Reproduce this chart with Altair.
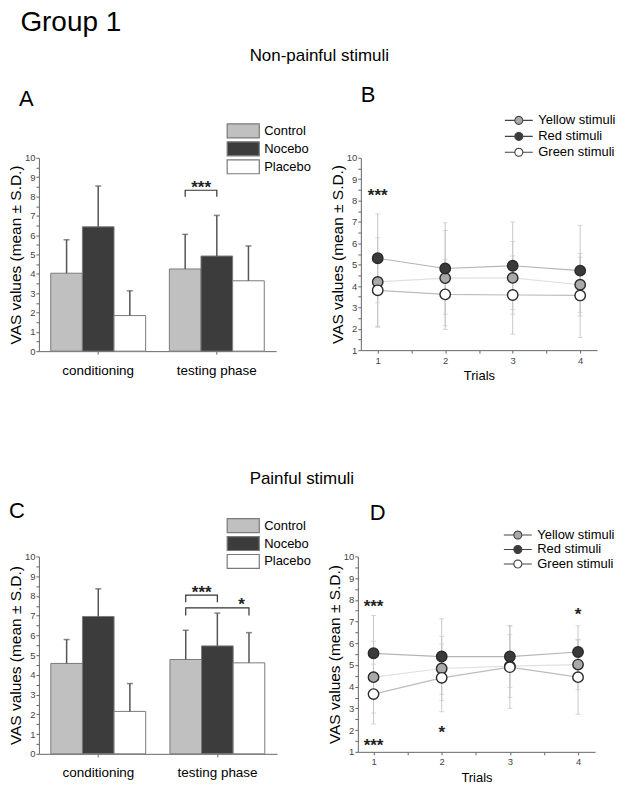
import math
import altair as alt
import pandas as pd

FONT = "Liberation Sans"

# ---------------- data ----------------
phases = ["conditioning", "testing phase"]
groups = ["Control", "Nocebo", "Placebo"]
group_fill = ["#c0c0c0", "#3c3c3c", "#ffffff"]

# panel A (non-painful), order: conditioning C/N/P, testing C/N/P
a_mean = [4.03, 6.43, 1.84, 4.25, 4.92, 3.64]
a_sd = [1.73, 2.11, 1.28, 1.79, 2.10, 1.80]
# panel C (painful)
c_mean = [4.58, 6.96, 2.15, 4.78, 5.47, 4.61]
c_sd = [1.21, 1.40, 1.41, 1.48, 1.66, 1.53]

# significance brackets: (phase, from group, to group, top, leg end, label, label y)
a_brackets = [("testing phase", "Control", "Nocebo", 8.32, 7.98, "***", 8.72)]
c_brackets = [("testing phase", "Control", "Nocebo", 8.04, 7.68, "***", 8.42),
              ("testing phase", "Control", "Placebo", 7.40, 7.01, "*", 7.78)]

trials = [1, 2, 3, 4]
series = ["Yellow stimuli", "Red stimuli", "Green stimuli"]
series_fill = ["#a9a9a9", "#3a3a3a", "#ffffff"]
series_line = ["#e0e0e0", "#b4b4b4", "#bcbcbc"]

b_mean = {"Yellow stimuli": [4.19, 4.37, 4.38, 4.06],
          "Red stimuli": [5.30, 4.82, 4.95, 4.72],
          "Green stimuli": [3.80, 3.61, 3.58, 3.56]}
b_sd = {"Yellow stimuli": [2.07, 2.23, 1.70, 1.29],
        "Red stimuli": [2.08, 2.14, 2.05, 2.12],
        "Green stimuli": [1.73, 1.64, 1.83, 1.97]}
d_mean = {"Yellow stimuli": [4.44, 4.84, 4.95, 5.02],
          "Red stimuli": [5.54, 5.39, 5.39, 5.60],
          "Green stimuli": [3.66, 4.41, 4.90, 4.44]}
d_sd = {"Yellow stimuli": [1.65, 1.48, 1.45, 1.16],
        "Red stimuli": [1.74, 1.74, 1.42, 1.21],
        "Green stimuli": [1.38, 1.56, 1.90, 1.71]}

b_stars = [(1, 8.46, "***")]
d_stars = [(1, 7.90, "***"), (1, 1.50, "***"), (2, 2.10, "*"), (4, 7.55, "*")]

YTITLE = "VAS values (mean ± S.D.)"
INT_ONLY = "datum.value % 1 === 0 ? '' + datum.value : ''"

# legend symbol shapes (style only)
RECT_SYMBOL = "M-2.3,-1H2.3V1H-2.3Z"
_circ = "".join(("M" if i == 0 else "L") + f"{0.8 * math.cos(2 * math.pi * i / 24):.3f},"
                f"{0.8 * math.sin(2 * math.pi * i / 24):.3f}" for i in range(24)) + "Z"
LINE_DOT_SYMBOL = "M-2.8,0H-0.8M0.8,0H2.8" + _circ


def y_axis(lo):
    vals = [lo + 0.5 * i for i in range(int((10 - lo) * 2) + 1)]
    return alt.Axis(values=vals, labelExpr=INT_ONLY, title=YTITLE, titleFontSize=15.5,
                    titleFontWeight="normal", titleColor="black", labelFontSize=9.5,
                    labelColor="#444", tickSize=3, domainColor="#666", tickColor="#666",
                    grid=False, titlePadding=1, labelPadding=1)


def bar_panel(letter, means, sds, brackets, w, h, leg_x, leg_y, t_dx, t_off):
    rows = []
    k = 0
    for p in phases:
        for g in groups:
            rows.append({"phase": p, "group": g, "mean": means[k], "top": means[k] + sds[k]})
            k += 1
    df = pd.DataFrame(rows)
    x = alt.X("phase:N", sort=phases, scale=alt.Scale(paddingInner=0.2, paddingOuter=0.1),
              axis=alt.Axis(title=None, labelAngle=0, labelFontSize=13.5, labelColor="black",
                            labelPadding=9, tickSize=3, domainColor="#666", tickColor="#666"))
    xo = alt.XOffset("group:N", sort=groups, scale=alt.Scale(paddingInner=0, paddingOuter=0))
    yax = y_axis(0)
    ysc = alt.Scale(domain=[0, 10], nice=False)

    bars = alt.Chart(df).mark_bar(stroke="#7a7a7a", strokeWidth=1).encode(
        x=x, xOffset=xo,
        y=alt.Y("mean:Q", scale=ysc, axis=yax),
        fill=alt.Fill("group:N", sort=groups,
                      scale=alt.Scale(domain=groups, range=group_fill),
                      legend=alt.Legend(title=None, orient="none", legendX=leg_x, legendY=leg_y,
                                        symbolType=RECT_SYMBOL, symbolSize=196,
                                        symbolStrokeColor="#7a7a7a", symbolStrokeWidth=1.2,
                                        labelFontSize=13, labelFont=FONT, labelColor="black",
                                        rowPadding=-4, labelOffset=13, padding=0)))
    err = alt.Chart(df).mark_rule(color="#555", strokeWidth=1.5).encode(
        x=x, xOffset=xo, y=alt.Y("mean:Q", scale=ysc, axis=yax), y2="top:Q")
    caps = alt.Chart(df).mark_tick(color="#555", thickness=1.5, size=6,
                                   orient="horizontal").encode(
        x=x, xOffset=xo, y=alt.Y("top:Q", scale=ysc, axis=yax))

    brow = []
    for i, (p, g1, g2, top, leg, lab, ly) in enumerate(brackets):
        brow += [{"id": i, "o": 0, "phase": p, "group": g1, "y": leg},
                 {"id": i, "o": 1, "phase": p, "group": g1, "y": top},
                 {"id": i, "o": 2, "phase": p, "group": g2, "y": top},
                 {"id": i, "o": 3, "phase": p, "group": g2, "y": leg}]
    bdf = pd.DataFrame(brow)
    blines = alt.Chart(bdf).mark_line(color="#333", strokeWidth=1.2).encode(
        x=x, xOffset=xo, y=alt.Y("y:Q", scale=ysc, axis=yax), detail="id:N", order="o:Q")

    layers = [bars, err, caps, blines]
    # star labels placed between the bracketed bars
    dxs = {("Control", "Nocebo"): 16, ("Control", "Placebo"): 56}
    for (p, g1, g2, top, leg, lab, ly) in brackets:
        sdf = pd.DataFrame([{"phase": p, "group": g1, "y": ly, "t": lab}])
        layers.append(alt.Chart(sdf).mark_text(fontSize=17, fontWeight="bold", font=FONT,
                                               color="#222", dx=dxs[(g1, g2)], dy=5).encode(
            x=x, xOffset=xo, y=alt.Y("y:Q", scale=ysc, axis=yax), text="t:N"))

    return alt.layer(*layers).properties(
        width=w, height=h,
        title=alt.TitleParams(letter, anchor="start", frame="group", dx=t_dx, offset=t_off,
                              fontSize=22, fontWeight="normal", font=FONT, color="black"))


def line_panel(letter, means, sds, stars, w, h, xdom, leg_x, leg_y, row_pad, t_dx, t_off):
    rows = []
    for s in series:
        for i, t in enumerate(trials):
            m = means[s][i]
            sd = sds[s][i]
            rows.append({"trial": t, "series": s, "mean": m, "lo": m - sd, "hi": m + sd})
    df = pd.DataFrame(rows)
    x = alt.X("trial:Q", scale=alt.Scale(domain=xdom, nice=False, zero=False),
              axis=alt.Axis(values=[1, 1.5, 2, 2.5, 3, 3.5, 4], labelExpr=INT_ONLY,
                            title="Trials", titleFontSize=13, titleFontWeight="normal",
                            titleColor="black", labelFontSize=9.5, labelColor="#444",
                            tickSize=3, domainColor="#666", tickColor="#666", grid=False,
                            labelPadding=2, titlePadding=5))
    ysc = alt.Scale(domain=[1, 10], nice=False, zero=False)
    yax = y_axis(1)

    base = alt.Chart(df)
    err = base.mark_rule(color="#c8c8c8", strokeWidth=1).encode(
        x=x, y=alt.Y("lo:Q", scale=ysc, axis=yax), y2="hi:Q")
    cap_lo = base.mark_tick(color="#c8c8c8", thickness=1, size=5,
                            orient="horizontal").encode(
        x=x, y=alt.Y("lo:Q", scale=ysc, axis=yax))
    cap_hi = base.mark_tick(color="#c8c8c8", thickness=1, size=5,
                            orient="horizontal").encode(
        x=x, y=alt.Y("hi:Q", scale=ysc, axis=yax))
    layers = [err, cap_lo, cap_hi]
    for s, col in zip(series, series_line):
        layers.append(base.transform_filter(alt.datum.series == s).mark_line(
            strokeWidth=1.2, color=col).encode(
            x=x, y=alt.Y("mean:Q", scale=ysc, axis=yax)))
    pts = base.mark_point(filled=True, shape="circle", size=110, stroke="#2a2a2a",
                          strokeWidth=1.4, opacity=1).encode(
        x=x, y=alt.Y("mean:Q", scale=ysc, axis=yax),
        color=alt.Color("series:N", sort=series,
                        scale=alt.Scale(domain=series, range=series_fill),
                        legend=alt.Legend(title=None, orient="none", legendX=leg_x,
                                          legendY=leg_y, symbolType=LINE_DOT_SYMBOL,
                                          symbolSize=100, symbolStrokeColor="#444",
                                          symbolStrokeWidth=1.1, symbolOpacity=1,
                                          labelFontSize=13, labelFont=FONT,
                                          labelColor="black", rowPadding=row_pad,
                                          labelOffset=13, padding=0)))
    layers.append(pts)
    sdf = pd.DataFrame([{"trial": t, "y": yv, "t": lab} for (t, yv, lab) in stars])
    layers.append(alt.Chart(sdf).mark_text(fontSize=17, fontWeight="bold", font=FONT,
                                           color="#222", dy=5).encode(
        x=x, y=alt.Y("y:Q", scale=ysc, axis=yax), text="t:N"))
    return alt.layer(*layers).properties(
        width=w, height=h,
        title=alt.TitleParams(letter, anchor="start", frame="group", dx=t_dx, offset=t_off,
                              fontSize=22, fontWeight="normal", font=FONT, color="black"))


A = bar_panel("A", a_mean, a_sd, a_brackets, 238, 194, 197, -35, -20, 12)
B = line_panel("B", b_mean, b_sd, b_stars, 237, 193, [0.75, 4.25], 152, -44, 2, 0, 7)
C = bar_panel("C", c_mean, c_sd, c_brackets, 239, 198, 197, -39, -30, -5)
D = line_panel("D", d_mean, d_sd, d_stars, 238, 196, [0.77, 4.25], 154, -28, 0.5, 12, 4)

RES = dict(fill="independent", color="independent")

row1 = alt.hconcat(A, B, spacing=19, title=alt.TitleParams(
    "Non-painful stimuli", anchor="start", dx=242, offset=19, fontSize=17,
    fontWeight="normal", font=FONT, color="black")).resolve_scale(**RES).resolve_legend(**RES)
row2 = alt.hconcat(C, D, spacing=16, title=alt.TitleParams(
    "Painful stimuli", anchor="start", dx=242, offset=12, fontSize=17,
    fontWeight="normal", font=FONT, color="black")).resolve_scale(**RES).resolve_legend(**RES)

chart = alt.vconcat(row1, row2, spacing=87).resolve_scale(**RES).resolve_legend(**RES).properties(
    padding={"left": 0, "top": 0, "right": 0, "bottom": 0},
    title=alt.TitleParams("Group 1", anchor="start", dx=12, offset=10, fontSize=28,
                          fontWeight="normal", font=FONT, color="black"),
).configure_view(stroke=None).configure_axis(labelFont=FONT, titleFont=FONT).configure_legend(
    labelFont=FONT)

chart.save("out.html", embed_options={"renderer": "svg", "actions": False})
